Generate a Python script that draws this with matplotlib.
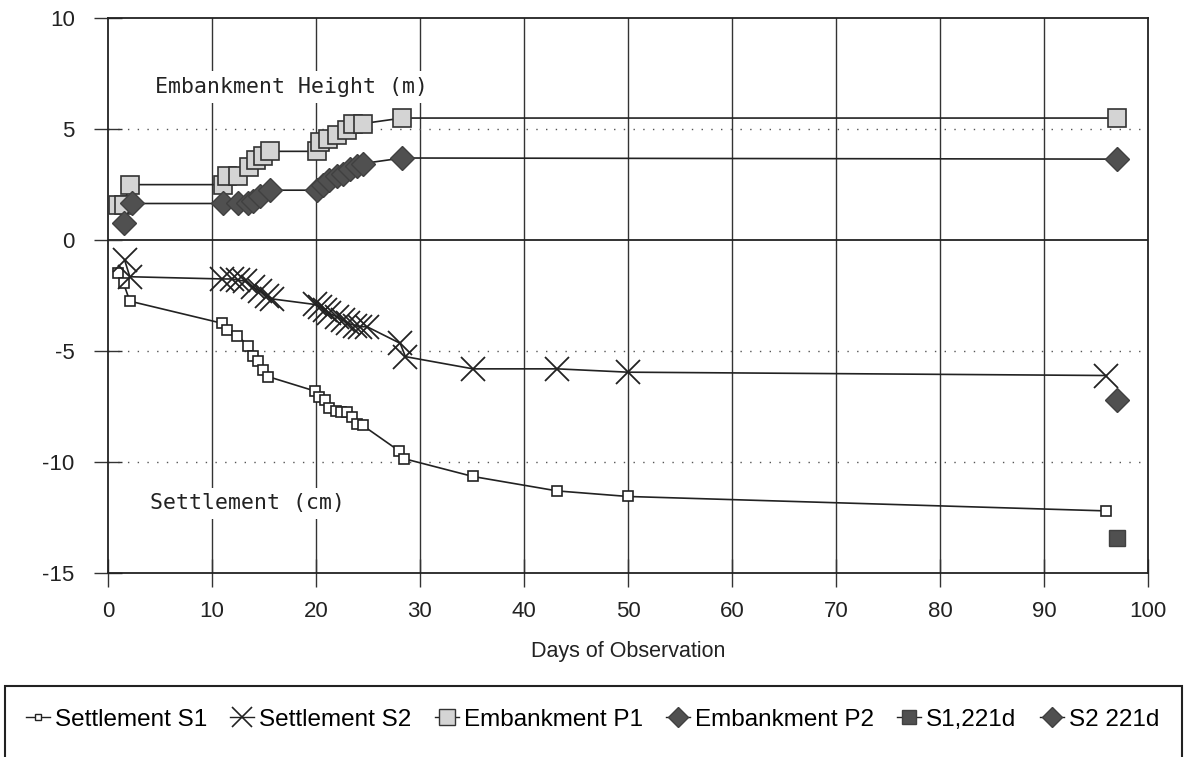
import numpy as np
import matplotlib.pyplot as plt
from matplotlib.patches import Rectangle
from matplotlib.lines import Line2D

plt.rcParams['axes.unicode_minus'] = False

# settlement S1 (cm)
s1_days = [1.0, 1.5, 2.1, 11.0, 11.4, 12.4, 13.5, 13.9, 14.4, 14.9, 15.4,
           19.9, 20.3, 20.9, 21.3, 21.9, 22.4, 23.0, 23.5, 23.9, 24.5,
           28.0, 28.5, 35.1, 43.2, 50.0, 96.0]
s1_vals = [-1.5, -1.95, -2.75, -3.75, -4.05, -4.3, -4.75, -5.2, -5.45, -5.85, -6.15,
           -6.8, -7.05, -7.2, -7.55, -7.7, -7.75, -7.75, -7.95, -8.3, -8.35,
           -9.5, -9.85, -10.65, -11.3, -11.55, -12.2]

# settlement S2 (cm)
s2_days = [1.6, 2.1, 11.0, 11.9, 12.5, 13.2, 13.9, 14.6, 15.3, 15.8,
           19.9, 20.4, 20.9, 21.3, 22.0, 22.6, 23.1, 23.8, 24.2, 24.9,
           28.1, 28.6, 35.1, 43.2, 50.0, 96.0]
s2_vals = [-0.9, -1.65, -1.75, -1.75, -1.8, -1.85, -2.1, -2.3, -2.5, -2.65,
           -2.9, -3.0, -3.15, -3.3, -3.45, -3.6, -3.75, -3.85, -3.9, -3.9,
           -4.65, -5.25, -5.8, -5.8, -5.95, -6.1]

# embankment height P1 (m)
p1_days = [1.0, 1.5, 2.1, 11.1, 11.4, 12.5, 13.6, 14.2, 14.9, 15.6,
           20.1, 20.4, 21.2, 22.0, 23.0, 23.6, 24.5, 28.3, 97.0]
p1_vals = [1.6, 1.6, 2.5, 2.5, 2.9, 2.9, 3.3, 3.6, 3.8, 4.0,
           4.0, 4.4, 4.55, 4.75, 4.95, 5.25, 5.25, 5.5, 5.5]

# embankment height P2 (m)
p2_days = [1.5, 2.3, 11.1, 12.5, 13.5, 13.9, 14.6, 15.6,
           20.1, 20.7, 21.3, 22.0, 22.6, 23.3, 23.9, 24.5, 28.3, 97.0]
p2_vals = [0.75, 1.65, 1.65, 1.65, 1.65, 1.75, 2.0, 2.25,
           2.25, 2.5, 2.7, 2.9, 3.0, 3.2, 3.35, 3.45, 3.7, 3.65]

# readings after 221 days
s1_221_day, s1_221_val = [97.0], [-13.4]
s2_221_day, s2_221_val = [97.0], [-7.2]

fig = plt.figure(figsize=(11.92, 7.57), dpi=100)
ax = fig.add_axes([0.0906, 0.243, 0.8724, 0.733])

ax.set_xlim(0, 100)
ax.set_ylim(-15, 10)
ax.set_xticks(np.arange(0, 101, 10))
ax.set_yticks([-15, -10, -5, 0, 5, 10])
ax.tick_params(direction='inout', length=20, width=1, labelsize=16, color='#333333')
ax.tick_params(axis='x', pad=10)
ax.tick_params(axis='y', pad=14)
for lab in ax.get_xticklabels() + ax.get_yticklabels():
    lab.set_family('Liberation Sans')
    lab.set_color('#222222')
for sp in ax.spines.values():
    sp.set_linewidth(1.3)
    sp.set_color('#222222')

# grid: solid verticals, dotted horizontals, solid zero line
for xv in range(10, 100, 10):
    ax.axvline(xv, color='#333333', lw=1.0, zorder=0)
for yv in [5, -5, -10]:
    ax.axhline(yv, color='#555555', lw=1.0, ls=(0, (1, 6)), zorder=0)
ax.axhline(0, color='#222222', lw=1.3, zorder=0)

ax.plot(s1_days, s1_vals, color='#222222', lw=1.2, marker='s', ms=6.5,
        mfc='white', mec='#222222', mew=1.2, zorder=3)
ax.plot(s2_days, s2_vals, color='#222222', lw=1.2, marker='x', ms=17,
        mew=1.3, mec='#222222', zorder=3)
ax.plot(p1_days, p1_vals, color='#222222', lw=1.2, marker='s', ms=13,
        mfc='#d4d4d4', mec='#333333', mew=1.2, zorder=3)
ax.plot(p2_days, p2_vals, color='#222222', lw=1.2, marker='D', ms=12,
        mfc='#505050', mec='#404040', mew=1, zorder=3)
ax.plot(s1_221_day, s1_221_val, ls='none', marker='s', ms=11,
        mfc='#505050', mec='#404040', zorder=3)
ax.plot(s2_221_day, s2_221_val, ls='none', marker='D', ms=12,
        mfc='#505050', mec='#404040', zorder=3)

ax.text(4.5, 6.9, 'Embankment Height (m)', family='DejaVu Sans Mono', fontsize=15.5,
        color='#222222', va='center', zorder=2,
        bbox=dict(facecolor='white', edgecolor='none', pad=4))
ax.text(4.0, -11.85, 'Settlement (cm)', family='DejaVu Sans Mono', fontsize=15.5,
        color='#222222', va='center', zorder=2,
        bbox=dict(facecolor='white', edgecolor='none', pad=4))

ax.set_xlabel('Days of Observation', family='Liberation Sans', fontsize=15.5,
              color='#222222', labelpad=14)

# legend in a box along the bottom
fig.patches.append(Rectangle((0.004, -0.02), 0.988, 0.114, transform=fig.transFigure,
                             fill=False, edgecolor='#222222', lw=1.5))
handles = [
    Line2D([], [], color='#222222', lw=1, marker='s', ms=5, mfc='white', mec='#222222'),
    Line2D([], [], color='#222222', lw=1, marker='x', ms=15, mew=1.2),
    Line2D([], [], color='#222222', lw=1, marker='s', ms=11, mfc='#d4d4d4', mec='#333333'),
    Line2D([], [], color='#222222', lw=1, marker='D', ms=10, mfc='#505050', mec='#404040'),
    Line2D([], [], color='#222222', lw=1, marker='s', ms=10, mfc='#505050', mec='#404040'),
    Line2D([], [], color='#222222', lw=1, marker='D', ms=10, mfc='#505050', mec='#404040'),
]
labels = ['Settlement S1', 'Settlement S2', 'Embankment P1', 'Embankment P2',
          'S1,221d', 'S2 221d']
fig.legend(handles, labels, loc='center', bbox_to_anchor=(0.497, 0.049), ncol=6,
           frameon=False, handlelength=1.0, handletextpad=0.2, columnspacing=0.95,
           prop={'family': 'Liberation Sans', 'size': 17.5})

fig.savefig('out.png', dpi=100)
